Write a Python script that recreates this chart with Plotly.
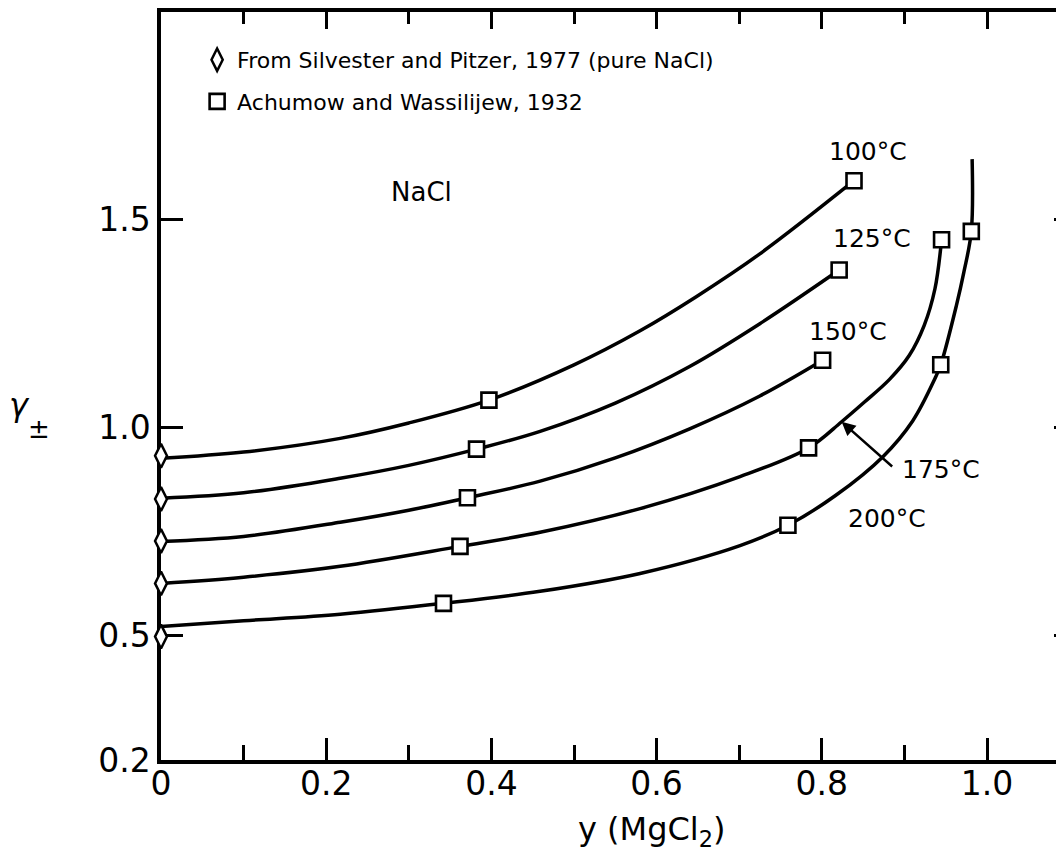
import plotly.graph_objects as go

# ---- data ----
X_TICKS = [0, 0.2, 0.4, 0.6, 0.8, 1.0]
X_TICK_TEXT = ["0", "0.2", "0.4", "0.6", "0.8", "1.0"]
X_MINOR = [0.1, 0.3, 0.5, 0.7, 0.9]
Y_TICKS = [0.2, 0.5, 1.0, 1.5]
Y_TICK_TEXT = ["0.2", "0.5", "1.0", "1.5"]

TEMPS = ["100°C", "125°C", "150°C", "175°C", "200°C"]

# smooth curves (fitted lines)
LINE100_X = [0, 0.1, 0.217, 0.3, 0.397, 0.5, 0.58, 0.648, 0.725, 0.839]
LINE100_Y = [0.926, 0.941, 0.974, 1.011, 1.066, 1.151, 1.233, 1.315, 1.418, 1.594]
LINE125_X = [0, 0.1, 0.217, 0.3, 0.382, 0.459, 0.55, 0.64, 0.725, 0.821]
LINE125_Y = [0.830, 0.843, 0.878, 0.909, 0.948, 0.991, 1.059, 1.147, 1.250, 1.379]
LINE150_X = [0, 0.1, 0.217, 0.3, 0.371, 0.459, 0.55, 0.64, 0.725, 0.801]
LINE150_Y = [0.726, 0.738, 0.772, 0.801, 0.831, 0.871, 0.927, 0.997, 1.076, 1.162]
LINE175_X = [0, 0.1, 0.217, 0.362, 0.459, 0.58, 0.701, 0.784, 0.824, 0.852, 0.882, 0.906, 0.924, 0.937, 0.945]
LINE175_Y = [0.625, 0.640, 0.666, 0.714, 0.748, 0.805, 0.882, 0.951, 1.014, 1.062, 1.116, 1.174, 1.246, 1.334, 1.452]
LINE200_X = [0, 0.1, 0.217, 0.342, 0.459, 0.58, 0.701, 0.759, 0.817, 0.874, 0.91, 0.937, 0.944, 0.963, 0.972, 0.981, 0.982]
LINE200_Y = [0.521, 0.535, 0.551, 0.577, 0.606, 0.649, 0.716, 0.765, 0.837, 0.930, 1.016, 1.118, 1.151, 1.294, 1.374, 1.472, 1.646]

# Achumow and Wassilijew, 1932 (squares)
SQ100_X = [0.397, 0.839]
SQ100_Y = [1.066, 1.594]
SQ125_X = [0.382, 0.821]
SQ125_Y = [0.948, 1.379]
SQ150_X = [0.371, 0.801]
SQ150_Y = [0.831, 1.162]
SQ175_X = [0.362, 0.784, 0.945]
SQ175_Y = [0.714, 0.951, 1.452]
SQ200_X = [0.342, 0.759, 0.944, 0.981]
SQ200_Y = [0.577, 0.765, 1.151, 1.472]

# Silvester and Pitzer, 1977 (diamonds, pure NaCl)
DIAMOND_X = [0, 0, 0, 0, 0]
DIAMOND_Y = [0.932, 0.828, 0.727, 0.625, 0.497]

LINES = [(LINE100_X, LINE100_Y), (LINE125_X, LINE125_Y), (LINE150_X, LINE150_Y),
         (LINE175_X, LINE175_Y), (LINE200_X, LINE200_Y)]
SQUARES = [(SQ100_X, SQ100_Y), (SQ125_X, SQ125_Y), (SQ150_X, SQ150_Y),
           (SQ175_X, SQ175_Y), (SQ200_X, SQ200_Y)]

# label anchor positions (data units)
LABEL_X = [0.856, 0.861, 0.832, 0.944, 0.879]
LABEL_Y = [1.665, 1.454, 1.230, 0.900, 0.780]

FONT = "DejaVu Sans"
fig = go.Figure()

for (lx, ly) in LINES:
    fig.add_trace(go.Scatter(x=lx, y=ly, mode="lines",
                             line=dict(color="black", width=3.5, shape="spline", smoothing=1.0),
                             showlegend=False, hoverinfo="skip", cliponaxis=False))

sq_x = [v for sx, sy in SQUARES for v in sx]
sq_y = [v for sx, sy in SQUARES for v in sy]

fig.add_trace(go.Scatter(x=DIAMOND_X, y=DIAMOND_Y, mode="markers",
                         name="From Silvester and Pitzer, 1977 (pure NaCl)",
                         legendgroup="a",
                         marker=dict(symbol="diamond-tall", size=17, color="white",
                                     line=dict(color="black", width=2.5)),
                         cliponaxis=False))
fig.add_trace(go.Scatter(x=sq_x, y=sq_y, mode="markers",
                         name="Achumow and Wassilijew, 1932",
                         legendgroup="b",
                         marker=dict(symbol="square", size=15, color="white",
                                     line=dict(color="black", width=2.6)),
                         cliponaxis=False))
# empty traces that carry the top and right-hand tick axes
fig.add_trace(go.Scatter(x=[], y=[], xaxis="x2", yaxis="y", showlegend=False, hoverinfo="skip"))
fig.add_trace(go.Scatter(x=[], y=[], xaxis="x", yaxis="y2", showlegend=False, hoverinfo="skip"))

ann = []
for t, x, y in zip(TEMPS, LABEL_X, LABEL_Y):
    ann.append(dict(x=x, y=y, xref="x", yref="y", text=t, showarrow=False,
                    font=dict(family=FONT, size=25, color="black")))
ann.append(dict(x=0.315, y=1.567, xref="x", yref="y", text="NaCl", showarrow=False,
                font=dict(family=FONT, size=26, color="black")))
# arrow pointing to the 175°C curve
ann.append(dict(x=0.824, y=1.014, xref="x", yref="y", ax=0.887, ay=0.903,
                axref="x", ayref="y", text="", showarrow=True, arrowhead=2,
                arrowsize=1.1, arrowwidth=2.5, arrowcolor="black", standoff=0))
# axis titles
ann.append(dict(x=0.594, y=-0.095, xref="x", yref="paper", text="y (MgCl<sub>2</sub>)",
                showarrow=False, yanchor="middle",
                font=dict(family=FONT, size=32, color="black")))
ann.append(dict(x=-0.170, y=1.055, xref="paper", yref="y", text="<i>γ</i>",
                showarrow=False, font=dict(family=FONT, size=32, color="black")))
ann.append(dict(x=-0.150, y=0.996, xref="paper", yref="y", text="±",
                showarrow=False, font=dict(family=FONT, size=26, color="black")))

# the page body adds an 8 px offset, so the figure is 8 px smaller on each side
fig.update_layout(
    width=1056, height=851,
    margin=dict(l=153, r=0, t=4, b=99, pad=0),
    paper_bgcolor="white", plot_bgcolor="white",
    font=dict(family=FONT, color="black"),
    showlegend=True,
    legend=dict(x=0.04, y=0.964, xanchor="left", yanchor="top",
                font=dict(family=FONT, size=22, color="black"),
                bgcolor="rgba(0,0,0,0)", itemwidth=30, tracegroupgap=10,
                traceorder="grouped"),
    annotations=ann,
    xaxis=dict(range=[0, 903 / 826], tickmode="array", tickvals=X_TICKS, ticktext=X_TICK_TEXT,
               ticks="inside", ticklen=22, tickwidth=3, tickcolor="black",
               minor=dict(tickmode="array", tickvals=X_MINOR, ticks="inside",
                          ticklen=15, tickwidth=3, tickcolor="black"),
               showline=True, linewidth=3.5, linecolor="black", mirror=False,
               showgrid=False, zeroline=False, layer="below traces",
               ticklabelstandoff=-8,
               tickfont=dict(family=FONT, size=33, color="black")),
    xaxis2=dict(range=[0, 903 / 826], overlaying="x", side="top", anchor="y",
                tickmode="array", tickvals=X_TICKS, ticks="inside", ticklen=17,
                tickwidth=3, tickcolor="black", showticklabels=False,
                minor=dict(tickmode="array", tickvals=X_MINOR, ticks="inside",
                           ticklen=12, tickwidth=3, tickcolor="black"),
                showline=True, linewidth=3.5, linecolor="black",
                showgrid=False, zeroline=False),
    yaxis=dict(range=[0.2, 2.0], tickmode="array", tickvals=Y_TICKS, ticktext=Y_TICK_TEXT,
               ticks="inside", ticklen=22, tickwidth=3, tickcolor="black",
               showline=True, linewidth=3.5, linecolor="black", mirror=False,
               showgrid=False, zeroline=False, layer="below traces",
               tickfont=dict(family=FONT, size=33, color="black")),
    yaxis2=dict(range=[0.2, 2.0], overlaying="y", side="right", anchor="free", position=1,
                tickmode="array", tickvals=[0.5, 1.0, 1.5], ticks="inside", ticklen=10,
                tickwidth=3, tickcolor="black", showticklabels=False, showline=False,
                showgrid=False, zeroline=False),
)

fig.write_html("out.html")
